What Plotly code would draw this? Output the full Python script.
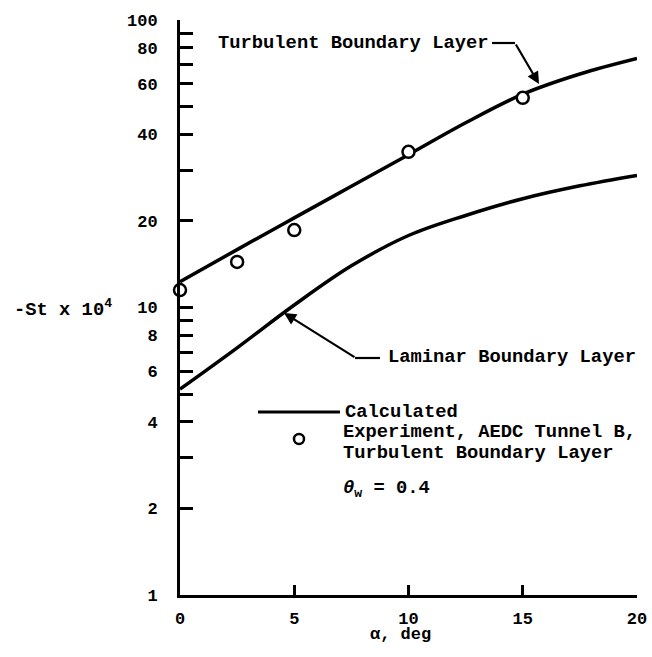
import plotly.graph_objects as go

# ---- data ----
alpha_curve = [0, 2.5, 5, 7.5, 10, 12.5, 15, 17.5, 20]
turbulent_calc = [12.3, 15.9, 20.5, 26.4, 34.0, 43.9, 55.2, 64.9, 73.5]
laminar_calc = [5.2, 7.24, 10.2, 13.96, 17.8, 20.9, 23.9, 26.5, 28.8]
alpha_exp = [0, 2.5, 5, 10, 15]
turbulent_exp = [11.5, 14.4, 18.6, 34.8, 53.6]

x_tickvals = [0, 5, 10, 15, 20]
y_tickvals = [1, 2, 3, 4, 5, 6, 7, 8, 9, 10, 20, 30, 40, 50, 60, 70, 80, 90, 100]
y_ticktext = ["1", "2", "", "4", "", "6", "", "8", "", "10", "20", "", "40", "", "60", "", "80", "", "100"]

FONT = "Liberation Mono"
W, H = 652, 657
L, R, T, B = 180, 637, 20, 595  # target plot area in pixels


def px(x):
    return (x - L) / (R - L)


def py(y):
    return (B - y) / (B - T)


fig = go.Figure()
fig.add_trace(go.Scatter(x=alpha_curve, y=turbulent_calc, mode="lines",
                         line=dict(color="black", width=3.5, shape="spline", smoothing=1.0),
                         showlegend=False, hoverinfo="skip"))
fig.add_trace(go.Scatter(x=alpha_curve, y=laminar_calc, mode="lines",
                         line=dict(color="black", width=3.5, shape="spline", smoothing=1.0),
                         showlegend=False, hoverinfo="skip"))
fig.add_trace(go.Scatter(x=alpha_exp, y=turbulent_exp, mode="markers",
                         marker=dict(symbol="circle", size=12, color="white",
                                     line=dict(color="black", width=2.5)),
                         cliponaxis=False, showlegend=False, hoverinfo="skip"))

tf = dict(family=FONT, size=17, color="black", weight="bold")

fig.update_layout(
    width=W, height=H,
    margin=dict(l=L, r=W - R, t=T, b=H - B, pad=0, autoexpand=False),
    paper_bgcolor="white", plot_bgcolor="white",
    font=dict(family=FONT, color="black", weight="bold"),
    xaxis=dict(range=[0, 20], tickvals=x_tickvals, ticks="inside", ticklen=10,
               tickwidth=2.5, tickcolor="black", showline=True, linecolor="black",
               linewidth=3, showgrid=False, zeroline=False, tickfont=tf,
               ticklabelstandoff=6, automargin=False),
    yaxis=dict(type="log", range=[0, 2], tickvals=y_tickvals, ticktext=y_ticktext,
               ticks="inside", ticklen=13, tickwidth=2.5, tickcolor="black",
               showline=True, linecolor="black", linewidth=3, showgrid=False,
               zeroline=False, tickfont=tf, ticklabelstandoff=16, automargin=False),
)

ann = []
sz = 18.8


def text(x, y, s, anchor="left", size=sz):
    ann.append(dict(xref="paper", yref="paper", x=px(x), y=py(y), text=s,
                    showarrow=False, xanchor=anchor, yanchor="middle",
                    font=dict(family=FONT, size=size, color="black", weight="bold")))


text(216, 43, "Turbulent Boundary Layer")
text(386, 357, "Laminar Boundary Layer")
text(343, 412, "Calculated")
text(341, 432, "Experiment, AEDC Tunnel B,")
text(341, 453, "Turbulent Boundary Layer")
text(341, 489, "<i>θ</i><sub>w</sub> = 0.4")
text(114, 308, "-St x 10<sup>4</sup>", anchor="right")
text(400, 634, "α, deg", anchor="center", size=17)

# arrow annotations (leader lines)
ann.append(dict(xref="paper", yref="paper", x=px(539), y=py(84), ax=515 - 539, ay=43 - 84,
                showarrow=True, arrowhead=2, arrowsize=1.1, arrowwidth=2.2, arrowcolor="black",
                text=""))
ann.append(dict(xref="paper", yref="paper", x=px(284), y=py(313), ax=356 - 284, ay=358 - 313,
                showarrow=True, arrowhead=2, arrowsize=1.1, arrowwidth=2.2, arrowcolor="black",
                text=""))
fig.update_layout(annotations=ann)

shapes = [
    dict(type="line", xref="paper", yref="paper", x0=px(492), x1=px(515), y0=py(43), y1=py(43),
         line=dict(color="black", width=2.2)),
    dict(type="line", xref="paper", yref="paper", x0=px(355), x1=px(380), y0=py(358), y1=py(358),
         line=dict(color="black", width=2.2)),
    dict(type="line", xref="paper", yref="paper", x0=px(258), x1=px(340), y0=py(412), y1=py(412),
         line=dict(color="black", width=3)),
    dict(type="circle", xref="paper", yref="paper", xsizemode="pixel", ysizemode="pixel",
         xanchor=px(299), yanchor=py(439), x0=-5, x1=5, y0=-5, y1=5,
         line=dict(color="black", width=2.5), fillcolor="white"),
]
fig.update_layout(shapes=shapes)

fig.write_html("out.html")
